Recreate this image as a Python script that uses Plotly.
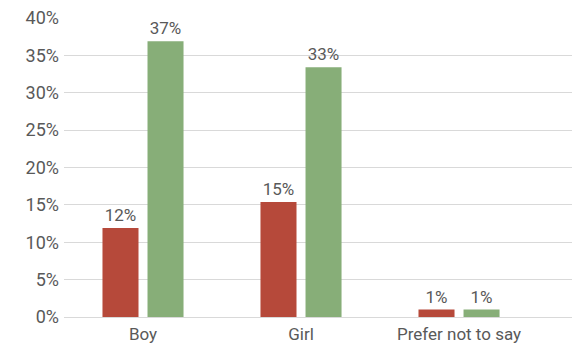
import plotly.graph_objects as go

categories = ["Boy", "Girl", "Prefer not to say"]
series_a = [11.9, 15.4, 1.0]
series_b = [36.9, 33.4, 1.0]
y_ticks = [0, 5, 10, 15, 20, 25, 30, 35, 40]
y_tick_labels = [f"{t}%" for t in y_ticks]

RED = "#B6493A"
GREEN = "#87AE78"
TEXT = "#595959"
GRID = "#D9D9D9"
FONT = "Roboto"

fig = go.Figure()
for vals, color in ((series_a, RED), (series_b, GREEN)):
    fig.add_trace(go.Bar(
        x=categories, y=vals,
        marker=dict(color=color, line=dict(width=0)),
        texttemplate="%{y:.0f}%", textposition="outside",
        textfont=dict(family=FONT, size=17, color=TEXT),
        cliponaxis=False,
    ))

fig.update_layout(
    width=572, height=348,
    margin=dict(l=64, r=0, t=18, b=31),
    paper_bgcolor="white", plot_bgcolor="white",
    showlegend=False,
    barmode="group", bargap=0.43, bargroupgap=0.2,
    font=dict(family=FONT, size=17, color=TEXT),
)
fig.update_xaxes(
    type="category", range=[-0.5, 2.715],
    showgrid=False, showline=True, linecolor=GRID, linewidth=1,
    ticks="", tickfont=dict(family=FONT, size=17, color=TEXT),
    ticklabelstandoff=2,
)
fig.update_yaxes(
    range=[0, 40], tickvals=y_ticks, ticktext=y_tick_labels,
    showgrid=True, gridcolor=GRID, gridwidth=1,
    zeroline=False, showline=False, ticks="",
    tickfont=dict(family=FONT, size=18, color=TEXT),
    ticklabelstandoff=4,
)

fig.write_html("out.html")
